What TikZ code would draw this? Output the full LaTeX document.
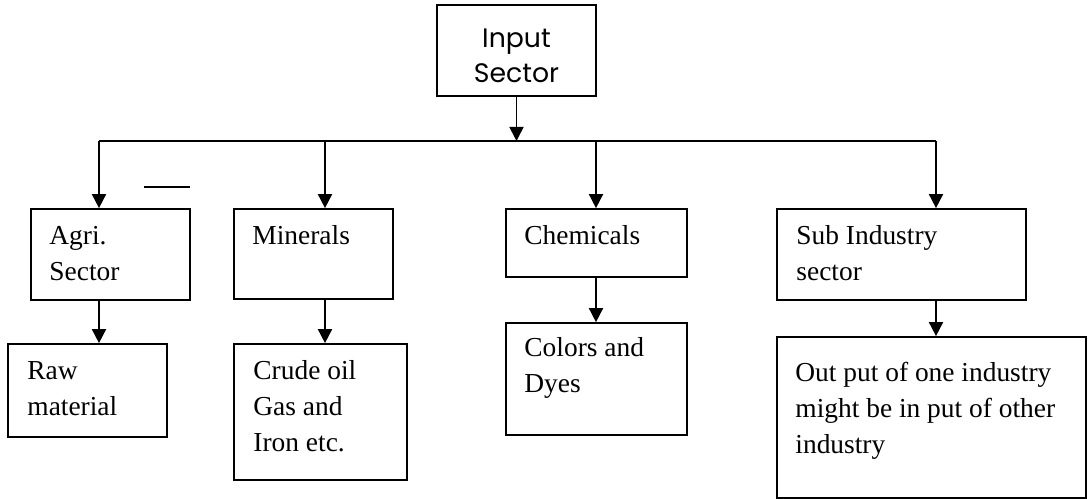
\documentclass[tikz,border=0pt]{standalone}
\usepackage{fontspec}
\setmainfont{Liberation Serif}
\newfontfamily\gothicfont{Poppins}
\usetikzlibrary{arrows.meta, fit}
\tikzset{box/.style={draw=black, line width=1.2pt, inner sep=0pt, fit={#1}},
 boxtext/.style={anchor=north west, align=left, inner sep=0pt,
 font=\fontsize{19.5}{25.6}\selectfont},
 flow/.style={draw=black, line width=1.2pt, -{Triangle[width=10pt,length=10pt]}}
}

\begin{document}
\begin{tikzpicture}[x=0.025cm, y=-0.025cm]

\useasboundingbox (0,0) rectangle (1088,499);

% top box
\node [box={(437,5) (596,96)}] (input) {};
\node [anchor=base, align=center, inner sep=0pt,
  font=\gothicfont\fontsize{19}{25.6}\selectfont] (input-t)
  at (516.5,83) {Input\\Sector};

% sector boxes
\node [box={(31,209) (190,300)}] (agri) {};
\node [box={(234,209) (393,299)}] (minerals) {};
\node [box={(506,209) (687,277)}] (chem) {};
\node [box={(777,209) (1026,300)}] (sub) {};

% lower boxes
\node [box={(8,344) (167,437)}] (raw) {};
\node [box={(234,344) (407,480)}] (crude) {};
\node [box={(506,323) (687,435)}] (colors) {};
\node [box={(777,337) (1086,498)}] (output) {};

% texts (first baseline about 36px under the top)
\node [boxtext] (agri-t) at ([shift={(19,11)}]agri.north west) {\strut Agri.\\Sector};
\node [boxtext] (minerals-t) at ([shift={(19,11)}]minerals.north west) {\strut Minerals};
\node [boxtext] (chem-t) at ([shift={(19,11)}]chem.north west) {\strut Chemicals};
\node [boxtext] (sub-t) at ([shift={(20,11)}]sub.north west) {\strut Sub Industry\\sector};
\node [boxtext] (raw-t) at ([shift={(20,11)}]raw.north west) {\strut Raw\\material};
\node [boxtext] (crude-t) at ([shift={(20,11)}]crude.north west)
  {\strut Crude oil\\Gas and\\Iron etc.};
\node [boxtext] (colors-t) at ([shift={(19,9)}]colors.north west) {\strut Colors and\\Dyes};
\node [boxtext] (output-t) at ([shift={(19,20)}]output.north west)
  {\strut Out put of one industry\\might be in put of other\\industry};

% bus
\coordinate (b1) at (99,141);
\coordinate (b2) at (325,141);
\coordinate (b3) at (596,141);
\coordinate (b4) at (936,141);
\draw [line width=1.2pt] (b1) -- (b4);
\draw [flow] (input.south) -- (input.south |- b1);

\foreach \b/\u/\l in {b1/agri/raw, b2/minerals/crude, b3/chem/colors, b4/sub/output}
{
  \draw [flow] (\b) -- (\b |- \u.north);
  \draw [flow] (\b |- \u.south) -- (\b |- \l.north);
}

% stray stroke
\draw [line width=1.2pt] (144,187) -- (190,187);
\end{tikzpicture}
\end{document}
